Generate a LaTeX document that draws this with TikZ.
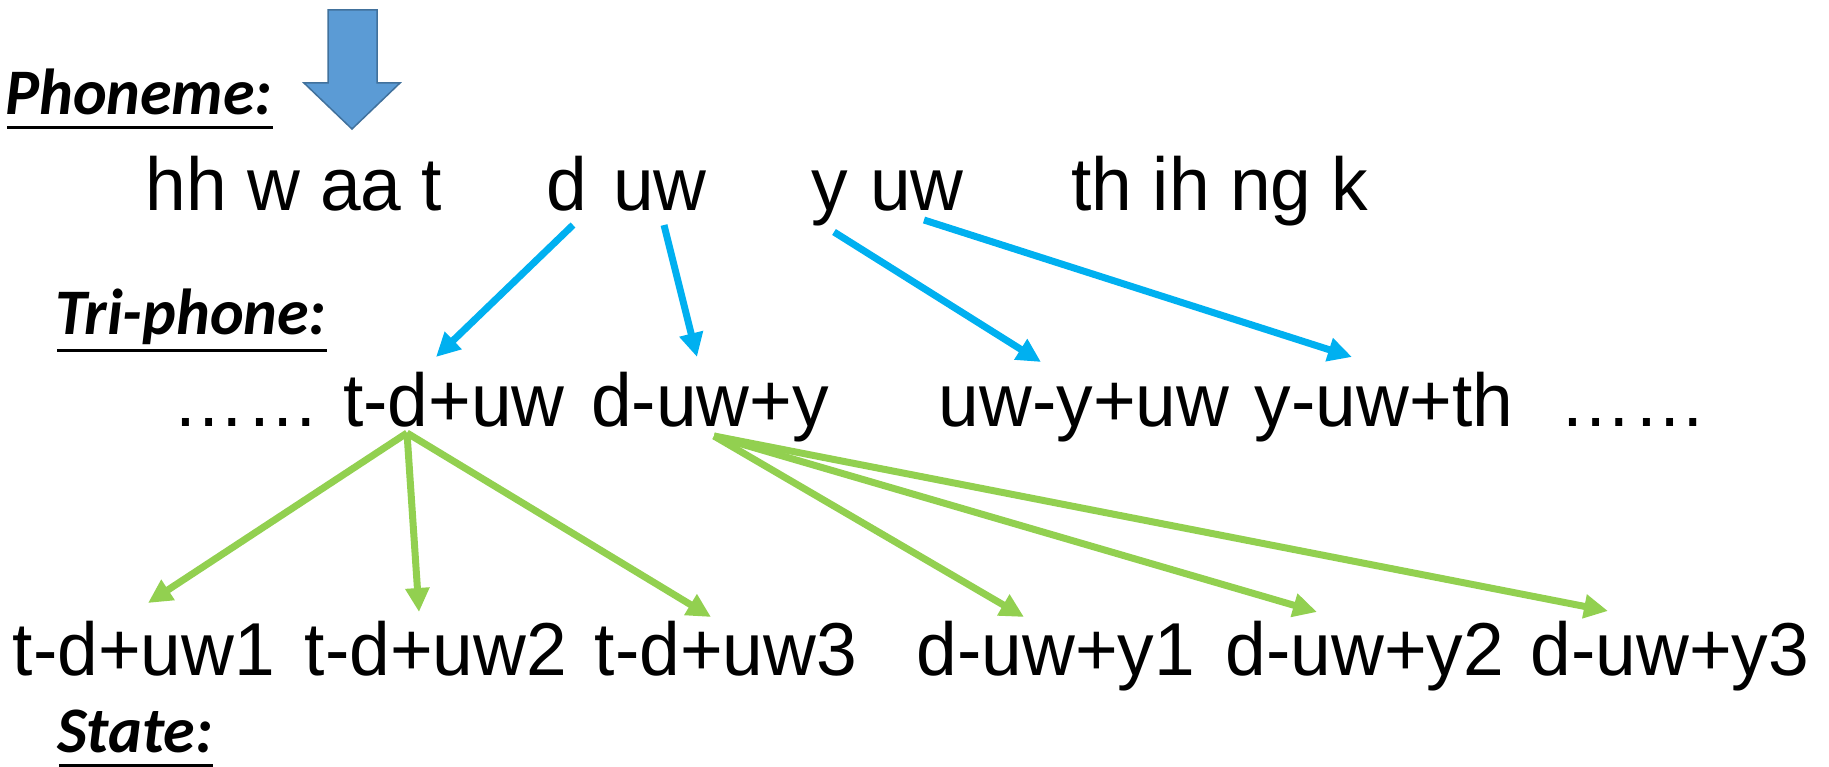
\documentclass[tikz,border=0pt]{standalone}
\usepackage{fontspec}
\setmainfont{Liberation Sans}[FakeStretch=0.975]
\newfontfamily\lblfont{Carlito}[FakeStretch=0.985]
\usetikzlibrary{arrows.meta}
\definecolor{arrblue}{HTML}{00B0F0}
\definecolor{arrgreen}{HTML}{92D050}
\definecolor{blockfill}{HTML}{5B9BD5}
\definecolor{blockdraw}{HTML}{41719C}
\tikzset{
  word/.style={inner sep=0pt, anchor=base, font=\fontsize{75}{90}\selectfont},
  lbl/.style={inner sep=0pt, anchor=base west, font=\lblfont\bfseries\itshape\fontsize{65}{78}\selectfont},
  ul/.style={line width=3pt, black},
  barrow/.style={arrblue, line width=7pt, -{Triangle[length=24pt,width=23pt]}},
  garrow/.style={arrgreen, line width=7pt, -{Triangle[length=24pt,width=23pt]}},
  block/.style={fill=blockfill, draw=blockdraw, line width=1.5pt, line join=miter}
}
\begin{document}
\begin{tikzpicture}[x=1pt,y=-1pt]
\useasboundingbox (0,0) rectangle (1829,767);
% labels
\node[lbl] (lph) at (5,115) {Phoneme:};
\node[lbl] (ltri) at (55,335) {Tri-phone:};
\node[lbl] (lst) at (57,752) {State:};
\draw[ul] ([shift={(2,13)}]lph.base west) -- ([shift={(0,13)}]lph.base east);
\draw[ul] ([shift={(2,16)}]ltri.base west) -- ([shift={(0,16)}]ltri.base east);
\draw[ul] ([shift={(2,13)}]lst.base west) -- ([shift={(0,13)}]lst.base east);
% block arrow
\draw[block] (328,10) -- (377,10) -- (377,83) -- (400,83) -- (352,129) -- (304,83) -- (328,83) -- cycle;
% phoneme row
\node[word] (p1) at (294,211) {hh w aa t};
\node[word] (pd) at (567,211) {d};
\node[word] (pu1) at (660,211) {uw};
\node[word] (py) at (830,211) {y};
\node[word] (pu2) at (917,211) {uw};
\node[word] (p4) at (1220,211) {th ih ng k};
% triphone row
\node[word] (td1) at (246,426) {……};
\node[word] (t1) at (454,426) {t-d+uw};
\node[word] (t2) at (710,426) {d-uw+y};
\node[word] (t3) at (1084,426) {uw-y+uw};
\node[word] (t4) at (1384,426) {y-uw+th};
\node[word] (td2) at (1633,426) {……};
% state row
\node[word] (s1) at (144,675) {t-d+uw1};
\node[word] (s2) at (436,675) {t-d+uw2};
\node[word] (s3) at (726,675) {t-d+uw3};
\node[word] (s4) at (1056,675) {d-uw+y1};
\node[word] (s5) at (1365,675) {d-uw+y2};
\node[word] (s6) at (1670,675) {d-uw+y3};
% blue arrows
\draw[barrow] ([shift={(6,14)}]pd.base) -- ([shift={(-18,-69)}]t1.base);
\draw[barrow] ([shift={(4,14)}]pu1.base) -- ([shift={(-13,-69)}]t2.base);
\draw[barrow] ([shift={(4,21)}]py.base) -- ([shift={(-43,-64)}]t3.base);
\draw[barrow] ([shift={(7,9)}]pu2.base) -- ([shift={(-32,-69)}]t4.base);
% green arrows
\draw[garrow] ([shift={(-47,7)}]t1.base) -- ([shift={(4,-72)}]s1.base);
\draw[garrow] ([shift={(-47,7)}]t1.base) -- ([shift={(-17,-63)}]s2.base);
\draw[garrow] ([shift={(-47,7)}]t1.base) -- ([shift={(-15,-58)}]s3.base);
\draw[garrow] ([shift={(4,10)}]t2.base) -- ([shift={(-32,-58)}]s4.base);
\draw[garrow] ([shift={(4,10)}]t2.base) -- ([shift={(-48,-63)}]s5.base);
\draw[garrow] ([shift={(4,10)}]t2.base) -- ([shift={(-62,-64)}]s6.base);
\end{tikzpicture}
\end{document}
